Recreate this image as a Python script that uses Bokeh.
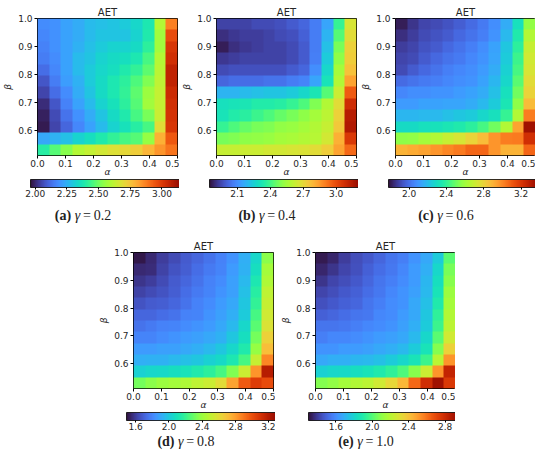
import numpy as np
from bokeh.plotting import figure
from bokeh.models import (LinearColorMapper, ColorBar, FixedTicker,
                          PrintfTickFormatter, Div, Spacer, Range1d)
from bokeh.layouts import column, row
from bokeh.palettes import Turbo256
from bokeh.embed import file_html
from bokeh.resources import INLINE

# ---------------- data ----------------
alpha_extent = [0.0, 0.5]
beta_extent = [0.51, 1.0]
alpha_ticks = [0.0, 0.1, 0.2, 0.3, 0.4, 0.5]
beta_ticks = [0.6, 0.7, 0.8, 0.9, 1.0]
panel_letters = ["a", "b", "c", "d", "e"]
gamma_labels = ["0.2", "0.4", "0.6", "0.8", "1.0"]
cbar_low = [1.963, 1.845, 1.78, 1.49, 1.30]
cbar_high = [3.178, 3.25, 3.43, 3.34, 2.99]
cbar_ticks_a = [2.00, 2.25, 2.50, 2.75, 3.00]
cbar_ticks_b = [2.1, 2.4, 2.7, 3.0]
cbar_ticks_c = [2.0, 2.4, 2.8, 3.2]
cbar_ticks_d = [1.6, 2.0, 2.4, 2.8, 3.2]
cbar_ticks_e = [1.6, 2.0, 2.4, 2.8]

# AET grids: rows from beta=1.0 (top) down to beta=0.51, columns alpha 0 -> 0.5
aet_a = [
    [2.18, 2.19, 2.22, 2.24, 2.27, 2.28, 2.29, 2.30, 2.33, 2.38, 2.60, 2.87],
    [2.17, 2.19, 2.22, 2.24, 2.27, 2.29, 2.29, 2.29, 2.32, 2.39, 2.57, 2.96],
    [2.16, 2.19, 2.22, 2.25, 2.28, 2.30, 2.32, 2.32, 2.34, 2.41, 2.57, 3.01],
    [2.15, 2.18, 2.22, 2.27, 2.29, 2.32, 2.34, 2.35, 2.38, 2.45, 2.60, 3.03],
    [2.12, 2.17, 2.22, 2.27, 2.30, 2.33, 2.35, 2.39, 2.42, 2.48, 2.61, 3.06],
    [2.08, 2.15, 2.21, 2.25, 2.30, 2.34, 2.38, 2.41, 2.46, 2.52, 2.62, 3.06],
    [2.05, 2.12, 2.18, 2.24, 2.29, 2.34, 2.38, 2.42, 2.48, 2.56, 2.63, 3.04],
    [2.01, 2.08, 2.16, 2.22, 2.27, 2.32, 2.36, 2.41, 2.47, 2.57, 2.63, 3.03],
    [1.99, 2.06, 2.13, 2.19, 2.24, 2.29, 2.34, 2.39, 2.45, 2.51, 2.64, 3.02],
    [1.98, 2.05, 2.11, 2.17, 2.22, 2.27, 2.32, 2.36, 2.40, 2.45, 2.69, 3.01],
    [2.23, 2.25, 2.28, 2.32, 2.35, 2.39, 2.42, 2.45, 2.47, 2.55, 2.79, 2.94],
    [2.40, 2.47, 2.53, 2.60, 2.63, 2.66, 2.68, 2.70, 2.73, 2.78, 2.84, 2.89],
]
aet_b = [
    [1.94, 1.94, 1.94, 1.96, 1.96, 1.97, 1.99, 2.01, 2.06, 2.15, 2.38, 2.66],
    [1.90, 1.92, 1.93, 1.93, 1.94, 1.96, 1.97, 2.00, 2.06, 2.18, 2.43, 2.69],
    [1.87, 1.90, 1.92, 1.93, 1.94, 1.94, 1.96, 1.99, 2.06, 2.21, 2.48, 2.72],
    [1.92, 1.93, 1.94, 1.94, 1.94, 1.94, 1.96, 1.99, 2.07, 2.24, 2.51, 2.73],
    [1.96, 1.97, 1.97, 1.97, 1.97, 1.97, 1.99, 2.01, 2.10, 2.27, 2.55, 2.76],
    [2.01, 2.03, 2.03, 2.03, 2.04, 2.04, 2.06, 2.08, 2.15, 2.31, 2.58, 2.83],
    [2.18, 2.18, 2.20, 2.21, 2.22, 2.22, 2.24, 2.27, 2.32, 2.43, 2.63, 2.97],
    [2.30, 2.31, 2.32, 2.34, 2.34, 2.35, 2.38, 2.42, 2.49, 2.58, 2.69, 3.08],
    [2.31, 2.34, 2.36, 2.39, 2.42, 2.45, 2.48, 2.51, 2.55, 2.60, 2.72, 3.14],
    [2.38, 2.42, 2.45, 2.48, 2.49, 2.52, 2.53, 2.55, 2.58, 2.62, 2.74, 3.15],
    [2.48, 2.49, 2.51, 2.52, 2.53, 2.55, 2.56, 2.58, 2.59, 2.65, 2.80, 3.05],
    [2.62, 2.62, 2.63, 2.63, 2.65, 2.65, 2.66, 2.67, 2.69, 2.73, 2.83, 2.94],
]
aet_c = [
    [1.81, 1.86, 1.90, 1.91, 1.93, 1.96, 1.99, 2.03, 2.08, 2.16, 2.31, 2.57],
    [1.85, 1.88, 1.91, 1.93, 1.95, 1.98, 2.01, 2.04, 2.09, 2.19, 2.36, 2.64],
    [1.88, 1.90, 1.93, 1.95, 1.98, 2.01, 2.04, 2.08, 2.13, 2.23, 2.39, 2.69],
    [1.90, 1.91, 1.95, 1.98, 2.01, 2.03, 2.06, 2.09, 2.14, 2.24, 2.42, 2.72],
    [1.91, 1.95, 1.98, 2.01, 2.04, 2.06, 2.08, 2.11, 2.16, 2.26, 2.44, 2.74],
    [1.99, 2.01, 2.03, 2.04, 2.06, 2.08, 2.09, 2.13, 2.18, 2.28, 2.47, 2.77],
    [2.06, 2.08, 2.08, 2.09, 2.09, 2.11, 2.13, 2.16, 2.21, 2.31, 2.51, 2.80],
    [2.11, 2.11, 2.13, 2.13, 2.14, 2.14, 2.16, 2.19, 2.24, 2.34, 2.56, 2.87],
    [2.18, 2.18, 2.19, 2.19, 2.21, 2.23, 2.24, 2.28, 2.31, 2.41, 2.64, 3.02],
    [2.29, 2.29, 2.31, 2.32, 2.34, 2.36, 2.39, 2.44, 2.51, 2.64, 2.94, 3.35],
    [2.56, 2.57, 2.61, 2.64, 2.69, 2.74, 2.80, 2.87, 2.97, 3.02, 3.03, 3.23],
    [2.90, 2.92, 2.94, 2.97, 3.00, 3.03, 3.07, 3.07, 2.97, 2.90, 2.90, 3.07],
]
aet_d = [
    [1.51, 1.55, 1.60, 1.64, 1.68, 1.71, 1.75, 1.79, 1.84, 1.92, 2.05, 2.36],
    [1.55, 1.56, 1.62, 1.66, 1.69, 1.73, 1.77, 1.80, 1.86, 1.93, 2.08, 2.42],
    [1.58, 1.60, 1.64, 1.68, 1.71, 1.75, 1.79, 1.82, 1.88, 1.95, 2.12, 2.45],
    [1.62, 1.64, 1.66, 1.69, 1.73, 1.77, 1.80, 1.84, 1.88, 1.97, 2.16, 2.49],
    [1.66, 1.68, 1.69, 1.71, 1.75, 1.79, 1.82, 1.86, 1.90, 1.99, 2.19, 2.51],
    [1.71, 1.71, 1.73, 1.75, 1.79, 1.80, 1.84, 1.88, 1.92, 2.01, 2.23, 2.54],
    [1.75, 1.77, 1.79, 1.80, 1.82, 1.84, 1.86, 1.90, 1.95, 2.05, 2.27, 2.58],
    [1.80, 1.80, 1.82, 1.84, 1.86, 1.88, 1.90, 1.93, 1.99, 2.08, 2.32, 2.64],
    [1.86, 1.86, 1.88, 1.88, 1.90, 1.92, 1.95, 1.99, 2.05, 2.14, 2.38, 2.71],
    [1.92, 1.93, 1.93, 1.95, 1.97, 1.99, 2.03, 2.06, 2.12, 2.23, 2.51, 2.86],
    [2.03, 2.05, 2.06, 2.08, 2.10, 2.14, 2.17, 2.23, 2.34, 2.53, 2.82, 3.19],
    [2.32, 2.36, 2.40, 2.42, 2.45, 2.49, 2.53, 2.60, 2.79, 2.97, 3.06, 3.01],
]
aet_e = [
    [1.32, 1.35, 1.40, 1.44, 1.47, 1.50, 1.54, 1.57, 1.62, 1.67, 1.77, 2.01],
    [1.35, 1.38, 1.42, 1.45, 1.49, 1.52, 1.55, 1.59, 1.64, 1.69, 1.81, 2.06],
    [1.38, 1.42, 1.44, 1.47, 1.50, 1.54, 1.57, 1.60, 1.64, 1.71, 1.84, 2.09],
    [1.42, 1.44, 1.47, 1.49, 1.52, 1.55, 1.59, 1.62, 1.65, 1.72, 1.86, 2.13],
    [1.45, 1.47, 1.49, 1.50, 1.54, 1.57, 1.60, 1.62, 1.67, 1.74, 1.89, 2.15],
    [1.49, 1.50, 1.52, 1.54, 1.55, 1.59, 1.60, 1.64, 1.67, 1.76, 1.93, 2.18],
    [1.54, 1.54, 1.55, 1.57, 1.59, 1.60, 1.62, 1.65, 1.69, 1.77, 1.96, 2.21],
    [1.57, 1.59, 1.59, 1.60, 1.62, 1.64, 1.65, 1.67, 1.72, 1.81, 2.01, 2.26],
    [1.62, 1.62, 1.64, 1.64, 1.65, 1.67, 1.69, 1.72, 1.77, 1.86, 2.08, 2.35],
    [1.67, 1.69, 1.69, 1.71, 1.72, 1.74, 1.77, 1.81, 1.86, 1.96, 2.20, 2.52],
    [1.79, 1.81, 1.82, 1.84, 1.86, 1.89, 1.93, 1.99, 2.09, 2.25, 2.52, 2.82],
    [2.08, 2.11, 2.15, 2.18, 2.21, 2.26, 2.33, 2.43, 2.62, 2.79, 2.91, 2.75],
]

grids = [aet_a, aet_b, aet_c, aet_d, aet_e]
cbar_ticks = [cbar_ticks_a, cbar_ticks_b, cbar_ticks_c, cbar_ticks_d, cbar_ticks_e]
cbar_formats = ["%.2f", "%.1f", "%.1f", "%.1f", "%.1f"]

FONT = "DejaVu Sans"
TXT = "#262626"
SMOOTH_CSS = "image { image-rendering: auto !important; }"


def make_panel(i, frame_h, right_border, cap_width, cap_height, cap_pad):
    p = figure(frame_width=140, frame_height=frame_h,
               x_range=Range1d(alpha_extent[0], alpha_extent[1]),
               y_range=Range1d(beta_extent[0], beta_extent[1]),
               output_backend="svg", toolbar_location=None,
               min_border_left=2, min_border_right=right_border,
               min_border_top=0, min_border_bottom=0,
               title="AET")
    p.stylesheets = [SMOOTH_CSS]
    p.title.text_font = FONT
    p.title.text_font_size = "10px"
    p.title.text_font_style = "normal"
    p.title.text_color = TXT
    p.title.align = "center"
    p.title.standoff = 2

    mapper = LinearColorMapper(palette=Turbo256, low=cbar_low[i], high=cbar_high[i])
    img = np.flipud(np.array(grids[i], dtype=float))
    p.image(image=[img], x=alpha_extent[0], y=beta_extent[0],
            dw=alpha_extent[1] - alpha_extent[0],
            dh=beta_extent[1] - beta_extent[0], color_mapper=mapper)

    p.xaxis.ticker = FixedTicker(ticks=alpha_ticks)
    p.yaxis.ticker = FixedTicker(ticks=beta_ticks)
    p.xaxis.formatter = PrintfTickFormatter(format="%.1f")
    p.yaxis.formatter = PrintfTickFormatter(format="%.1f")
    p.xaxis.axis_label = "α"
    p.yaxis.axis_label = "β"
    for ax in (p.xaxis, p.yaxis):
        ax.axis_label_text_font = FONT
        ax.axis_label_text_font_size = "9px"
        ax.axis_label_text_font_style = "italic"
        ax.axis_label_text_color = TXT
        ax.major_label_text_font = FONT
        ax.major_label_text_font_size = "9px"
        ax.major_label_text_color = TXT
        ax.major_tick_in = 0
        ax.major_tick_out = 3
        ax.major_tick_line_color = "black"
        ax.minor_tick_line_color = None
        ax.axis_line_color = None
    p.xaxis.major_label_standoff = 1
    p.xaxis.axis_label_standoff = -3
    p.yaxis.major_label_standoff = 2
    p.yaxis.axis_label_standoff = 2
    p.xgrid.visible = False
    p.ygrid.visible = False
    p.outline_line_color = "black"
    p.outline_line_width = 1
    p.outline_line_alpha = 1

    cb = ColorBar(color_mapper=mapper, orientation="horizontal",
                  ticker=FixedTicker(ticks=cbar_ticks[i]),
                  formatter=PrintfTickFormatter(format=cbar_formats[i]),
                  height=8, width=154, location=(-7, 0),
                  padding=0, margin=0, label_standoff=0,
                  major_label_text_font=FONT,
                  major_label_text_font_size="9px",
                  major_label_text_color=TXT,
                  major_tick_in=0, major_tick_out=2,
                  major_tick_line_color="black",
                  minor_tick_line_color=None,
                  bar_line_color="black", bar_line_width=0.8,
                  background_fill_alpha=0)
    p.add_layout(cb, "below")

    html = ("<span style=\"position:relative;top:%dpx;\"><b>(%s)</b> "
            "<i>γ</i>&#8201;=&#8201;%s</span>") % (cap_pad, panel_letters[i], gamma_labels[i])
    cap = Div(text=html, width=cap_width, height=cap_height, margin=0,
              styles={"text-align": "center",
                      "font-family": "'Liberation Serif','DejaVu Serif',serif",
                      "font-size": "14px", "line-height": "16px",
                      "color": "#222", "white-space": "nowrap"})
    return column(p, cap)


top = row(make_panel(0, 137, 2, 166, 38, 9),
          make_panel(1, 137, 2, 176, 38, 9),
          make_panel(2, 137, 0, 176, 38, 9))
bottom = row(Spacer(width=96),
             make_panel(3, 136, 2, 180, 24, 2),
             Spacer(width=2),
             make_panel(4, 136, 0, 176, 24, 2))
layout = column(Spacer(height=3), top, bottom)

open("out.html", "w").write(file_html(layout, INLINE))
